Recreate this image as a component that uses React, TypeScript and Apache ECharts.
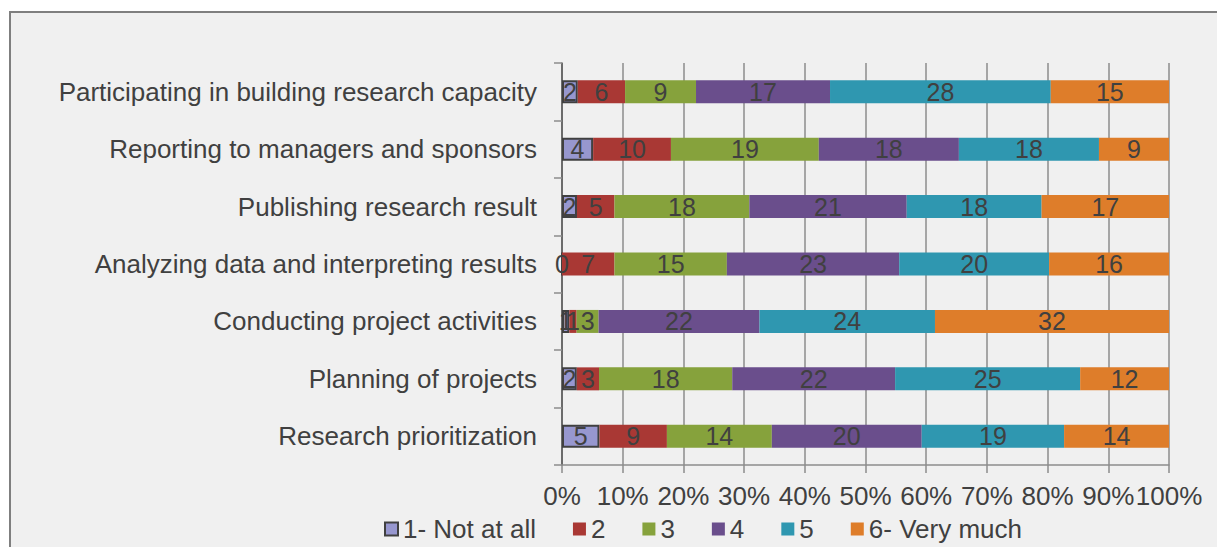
import React, { useEffect, useRef } from "react";
import * as echarts from "echarts";

const categories = [
  "Research prioritization",
  "Planning of projects",
  "Conducting project activities",
  "Analyzing data and interpreting results",
  "Publishing research result",
  "Reporting to managers and sponsors",
  "Participating in building research capacity",
];

const seriesNames = ["1- Not at all", "2", "3", "4", "5", "6- Very much"];
const colors = ["#9797cf", "#a93834", "#86a23c", "#6a4e8c", "#2f97b0", "#de7d2a"];

const s1 = [5, 2, 1, 0, 2, 4, 2];
const s2 = [9, 3, 1, 7, 5, 10, 6];
const s3 = [14, 18, 3, 15, 18, 19, 9];
const s4 = [20, 22, 22, 23, 21, 18, 17];
const s5 = [19, 25, 24, 20, 18, 18, 28];
const s6 = [14, 12, 32, 16, 17, 9, 15];

const allSeries = [s1, s2, s3, s4, s5, s6];
const xTicks = ["0%", "10%", "20%", "30%", "40%", "50%", "60%", "70%", "80%", "90%", "100%"];

const FONT = "Liberation Sans, Arial, sans-serif";
const TEXT = "#404040";
const FS = 26;

export default function App() {
  const ref = useRef<HTMLDivElement>(null);
  useEffect(() => {
    if (!ref.current) return;
    const chart = echarts.init(ref.current, null, { renderer: "svg" });
    const totals = categories.map((_, i) => allSeries.reduce((a, s) => a + s[i], 0));
    const series = allSeries.map((vals, si) => ({
      name: seriesNames[si],
      type: "bar",
      stack: "total",
      barWidth: 23,
      data: vals.map((v, i) => ({ value: (v / totals[i]) * 100, raw: v })),
      itemStyle: si === 0
        ? { color: colors[si], borderColor: "#404040", borderWidth: 2 }
        : { color: colors[si] },
      label: {
        show: true,
        position: "inside",
        color: TEXT,
        fontSize: 25,
        fontFamily: FONT,
        formatter: (p: any) => String(p.data.raw),
      },
      emphasis: { disabled: true },
    }));
    chart.setOption({
      animation: false,
      backgroundColor: "#ffffff",
      textStyle: { fontFamily: FONT },
      graphic: [
        {
          type: "rect",
          z: -10,
          silent: true,
          shape: { x: 10, y: 12, width: 1230, height: 560 },
          style: { fill: "#f0f0f0", stroke: "#7f7f7f", lineWidth: 2 },
        },
      ],
      grid: { left: 562, right: 48, top: 63, bottom: 82, containLabel: false },
      xAxis: {
        type: "value",
        min: 0,
        max: 100,
        interval: 10,
        axisLine: { show: true, lineStyle: { color: "#8c8c8c", width: 1.5 } },
        axisTick: { show: true, length: 8, lineStyle: { color: "#8c8c8c", width: 1.5 } },
        splitLine: { show: true, lineStyle: { color: "#8c8c8c", width: 1.5 } },
        axisLabel: {
          color: TEXT,
          fontSize: FS,
          fontFamily: FONT,
          margin: 18,
          formatter: (v: number) => xTicks[Math.round(v / 10)],
        },
      },
      yAxis: {
        type: "category",
        data: categories,
        axisLine: { show: true, lineStyle: { color: "#595959", width: 1.5 } },
        axisTick: { show: true, length: 8, lineStyle: { color: "#8c8c8c", width: 1.5 } },
        axisLabel: { color: TEXT, fontSize: FS, fontFamily: FONT, margin: 25 },
      },
      legend: {
        top: 516,
        left: 384,
        padding: 0,
        itemWidth: 13,
        itemHeight: 13,
        itemGap: 37,
        icon: "rect",
        textStyle: { color: TEXT, fontSize: FS, fontFamily: FONT },
        data: seriesNames.map((n, i) =>
          i === 0
            ? { name: n, itemStyle: { color: colors[0], borderColor: "#404040", borderWidth: 2 } }
            : { name: n, itemStyle: { color: colors[i], borderWidth: 0 } }
        ),
      },
      series,
    });
    return () => chart.dispose();
  }, []);
  return (
    <div
      ref={ref}
      style={{ position: "absolute", left: 0, top: 0, width: 1217, height: 547 }}
    />
  );
}
